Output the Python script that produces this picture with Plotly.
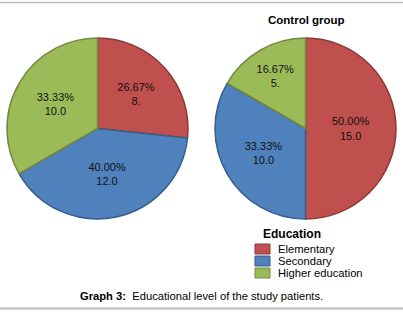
import plotly.graph_objects as go

categories = ["Elementary", "Secondary", "Higher education"]
study_values = [8, 12, 10]
study_value_labels = ["8.", "12.0", "10.0"]
control_values = [15, 10, 5]
control_value_labels = ["15.0", "10.0", "5."]
colors = ["#C0504D", "#4F81BD", "#9BBB59"]
border_colors = ["#8C3836", "#385D8A", "#71893F"]

W, H = 403, 316
FONT = "Liberation Sans, Arial"

def px_x(x):
    return x / W

def px_y(y):
    return 1 - y / H

fig = go.Figure()
for vals, labs, dom in [
    (study_values, study_value_labels, [7, 188]),
    (control_values, control_value_labels, [215, 396]),
]:
    fig.add_trace(go.Pie(
        labels=categories, values=vals, text=labs,
        texttemplate="%{percent:.2%}<br>%{text}", textposition="inside",
        insidetextorientation="horizontal",
        sort=False, direction="clockwise", rotation=0,
        marker=dict(colors=colors, line=dict(color=border_colors, width=1.5)),
        textfont=dict(family=FONT, size=11, color="#111111"),
        domain=dict(x=[px_x(dom[0]), px_x(dom[1])], y=[px_y(219), px_y(38)]),
        showlegend=False, hoverinfo="label+value+percent",
    ))

annotations = [
    dict(text="<b>Control group</b>", x=px_x(306), y=px_y(20),
         xref="paper", yref="paper", showarrow=False,
         xanchor="center", yanchor="middle",
         font=dict(family=FONT, size=11.5, color="#000000")),
    dict(text="<b>Graph 3:</b>\u00a0 Educational level of the study patients.",
         x=px_x(201), y=px_y(296), xref="paper", yref="paper",
         showarrow=False, xanchor="center", yanchor="middle",
         font=dict(family=FONT, size=11.2, color="#000000")),
    dict(text="<b>Education</b>", x=px_x(292), y=px_y(234),
         xref="paper", yref="paper", showarrow=False,
         xanchor="center", yanchor="middle",
         font=dict(family=FONT, size=12, color="#000000")),
]
shapes = [
    dict(type="line", xref="paper", yref="paper", x0=0, x1=1,
         y0=px_y(2.5), y1=px_y(2.5),
         line=dict(color="#BBBBBB", width=1.5)),
    dict(type="line", xref="paper", yref="paper", x0=0, x1=1,
         y0=px_y(308.5), y1=px_y(308.5),
         line=dict(color="#C4C4C4", width=2.5)),
]

# custom compact legend
legend_y = [249, 261, 273]
for cat, col, bcol, yc in zip(categories, colors, border_colors, legend_y):
    shapes.append(dict(type="rect", xref="paper", yref="paper",
                       x0=px_x(255), x1=px_x(270),
                       y0=px_y(yc + 5), y1=px_y(yc - 5),
                       fillcolor=col, line=dict(color=bcol, width=1)))
    annotations.append(dict(text=cat, x=px_x(276), y=px_y(yc),
                            xref="paper", yref="paper", showarrow=False,
                            xanchor="left", yanchor="middle",
                            font=dict(family=FONT, size=11.2, color="#000000")))

fig.update_layout(
    width=W, height=H,
    margin=dict(l=0, r=0, t=0, b=0),
    paper_bgcolor="white", plot_bgcolor="white",
    font=dict(family=FONT, color="#000000"),
    showlegend=False,
    annotations=annotations,
    shapes=shapes,
)

fig.write_html("out.html", config={"displayModeBar": False},
               post_script="document.body.style.margin='0';")
